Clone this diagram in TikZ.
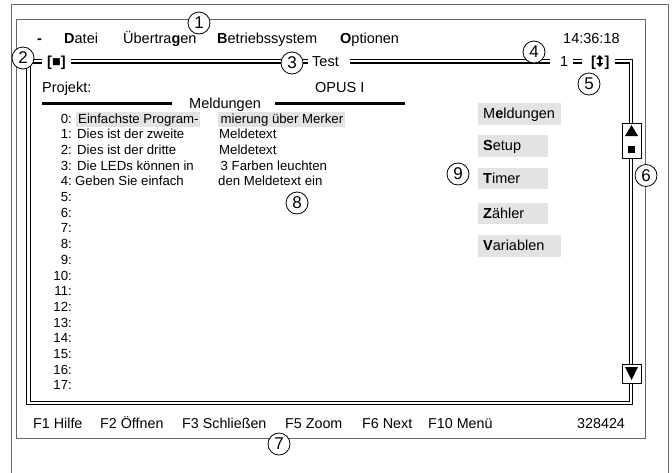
\documentclass[tikz,border=0pt]{standalone}
\usepackage{fontspec}
\setmainfont{Liberation Sans}
\begin{document}
\begin{tikzpicture}[x=1pt,y=-1pt,
  gframe/.style={draw=black!60, line width=0.9pt},
  win/.style={draw=black, line width=1.2pt, double=white, double distance=2.3pt},
  callout/.style={circle, draw=black, fill=white, line width=0.8pt, minimum size=22pt, inner sep=0pt, font=\fontsize{17}{17}\selectfont},
  menu/.style={anchor=base west, inner sep=0pt, font=\fontsize{14.5}{16}\selectfont},
  item/.style={anchor=base west, inner sep=0pt, font=\fontsize{13.2}{15}\selectfont},
  rownum/.style={anchor=base east, inner sep=0pt, font=\fontsize{13.2}{15}\selectfont},
  fkey/.style={anchor=base west, inner sep=0pt, font=\fontsize{14.3}{16}\selectfont},
  hl/.style={fill=black!11},
  btn/.style={fill=black!11},
  gap/.style={fill=white},
  bar/.style={line width=3pt},
  sbox/.style={draw=black, fill=white, line width=0.9pt}
]
\useasboundingbox (0,0) rectangle (672,472);
\fill[white] (0,0) rectangle (672,472);
% outer frames
\draw[gframe] (11,480) -- (11,4) -- (668,4) -- (668,480);
\draw[gframe] (16,19) rectangle (645,438);
% window frame (double line)
\draw[win] (28.5,61.25) rectangle (631,403);
\fill[gap] (42,55) rectangle (71,68);
\fill[gap] (308,55) rectangle (350,68);
\fill[gap] (550,55) rectangle (573,68);
\fill[gap] (582,55) rectangle (615,68);
% menu bar
\node[menu] (dash) at (37,43) {\textbf{-}};
\node[menu] (datei) at (64,43) {\textbf{D}atei};
\node[menu] (uebertragen) at (123,43) {Übertra\textbf{g}en};
\node[menu] (betrieb) at (217,43) {\textbf{B}etriebssystem};
\node[menu] (optionen) at (340,43) {\textbf{O}ptionen};
\node[menu] (time) at (563,43) {14:36:18};
% title bar
\node[menu] (close) at (47,66) {\textbf{[}■\textbf{]}};
\node[menu] (title) at (312,66) {Test};
\node[menu] (winnum) at (560,66) {1};
\node[menu] (resize) at (591,66) {\textbf{[}\hspace{8.5pt}\textbf{]}};
% double arrow inside the resize brackets
\fill (596.3,59) -- (603.3,59) -- (599.8,55) -- cycle;
\fill (596.3,63) -- (603.3,63) -- (599.8,67) -- cycle;
\fill (598.7,58.5) rectangle (600.9,63.5);
% project
\node[menu] (projekt) at (42,92.5) {Projekt:};
\node[menu] (opus) at (315,92.5) {OPUS I};
% heading
\draw[bar] (42,103.5) -- (172,103.5);
\draw[bar] (275,103.5) -- (405,103.5);
\node[menu] (mhead) at (189,108) {Meldungen};
% list
\fill[hl] (76,112) rectangle (200,126.5);
\fill[hl] (218,112) rectangle (345,126.5);
\foreach \i in {0,...,17} \node[rownum] (n\i) at (72,{123+15.7*\i}) {\i:};
\node[item] (a0) at (78,123) {Einfachste Program-};
\node[item] (b0) at (220.5,123) {mierung über Merker};
\node[item] (a1) at (77,138.7) {Dies ist der zweite};
\node[item] (b1) at (219,138.7) {Meldetext};
\node[item] (a2) at (77,154.4) {Dies ist der dritte};
\node[item] (b2) at (219,154.4) {Meldetext};
\node[item] (a3) at (77,170.1) {Die LEDs können in};
\node[item] (b3) at (220.5,170.1) {3 Farben leuchten};
\node[item] (a4) at (75,185.8) {Geben Sie einfach};
\node[item] (b4) at (218,185.8) {den Meldetext ein};
% buttons
\fill[btn] (478,103) rectangle (561,125);
\node[menu] (bmeld) at (483,118.7) {M\textbf{e}ldungen};
\fill[btn] (478,135) rectangle (548,157);
\node[menu] (bsetup) at (483,150.7) {\textbf{S}etup};
\fill[btn] (478,168) rectangle (548,189);
\node[menu] (btimer) at (483,183.2) {\textbf{T}imer};
\fill[btn] (478,203) rectangle (548,224);
\node[menu] (bzaehler) at (483,218.2) {\textbf{Z}ähler};
\fill[btn] (478,235) rectangle (561,257);
\node[menu] (bvar) at (483,250.7) {\textbf{V}ariablen};
% scroll bar
\draw[sbox] (622,123) rectangle (641,158);
\fill (625,136) -- (638,136) -- (631.5,125) -- cycle;
\fill (628,146) rectangle (635,153);
\draw[sbox] (622,364) rectangle (641,383);
\fill (625,367) -- (638,367) -- (631.5,380) -- cycle;
% function keys
\node[fkey] (f1) at (33,428) {F1 Hilfe};
\node[fkey] (f2) at (100,428) {F2 Öffnen};
\node[fkey] (f3) at (182,428) {F3 Schließen};
\node[fkey] (f5) at (285,428) {F5 Zoom};
\node[fkey] (f6) at (362,428) {F6 Next};
\node[fkey] (f10) at (428,428) {F10 Menü};
\node[fkey] (code) at (577,428) {328424};
% callouts
\node[callout] (c1) at (199,23) {1};
\node[callout] (c2) at (23,58) {2};
\node[callout] (c3) at (292,63) {3};
\node[callout] (c4) at (534,52) {4};
\node[callout] (c5) at (589,84) {5};
\node[callout] (c6) at (646,175.5) {6};
\node[callout] (c7) at (279,444) {7};
\node[callout] (c8) at (297,203) {8};
\node[callout] (c9) at (458,174) {9};
\end{tikzpicture}
\end{document}
